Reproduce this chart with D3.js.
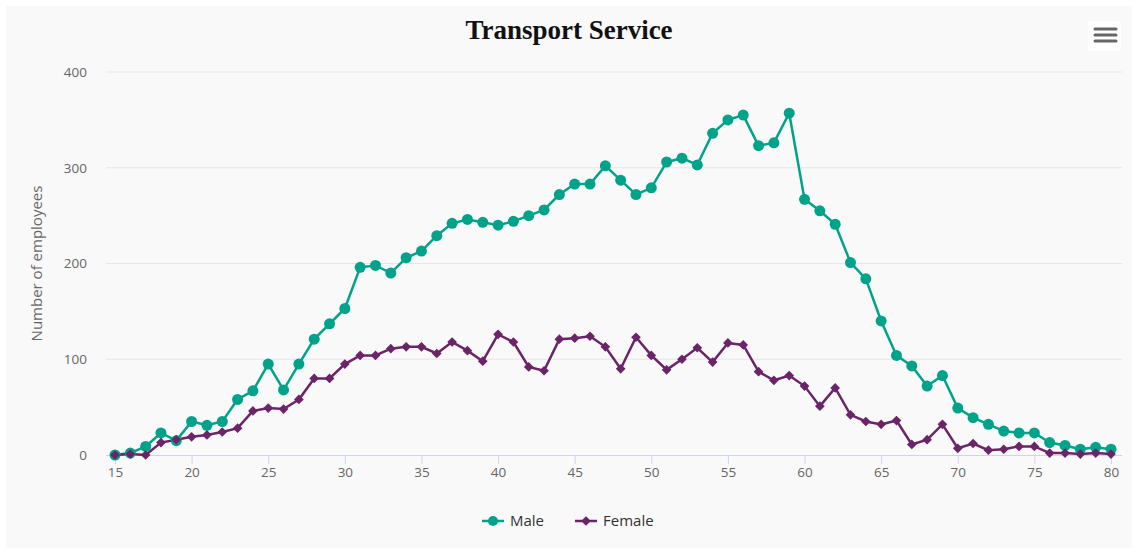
<!DOCTYPE html>
<html>
<head>
<meta charset="utf-8">
<script src="https://cdn.jsdelivr.net/npm/d3@7"></script>
<style>
    body { margin: 0; background: #ffffff; }
    svg { display: block; }
</style>
</head>
<body>
<div id="chart"></div>
<script>
// ages on the x axis
var ages = d3.range(15, 81);

// number of male employees per age
var maleValues = [0, 2, 9, 23, 15, 35, 31, 35, 58, 67,
    95, 68, 95, 121, 137, 153, 196, 198, 190, 206,
    213, 229, 242, 246, 243, 240, 244, 250, 256, 272,
    283, 283, 302, 287, 272, 279, 306, 310, 303, 336,
    350, 355, 323, 326, 357, 267, 255, 241, 201, 184,
    140, 104, 93, 72, 83, 49, 39, 32, 25, 23,
    23, 13, 10, 6, 8, 6];

// number of female employees per age
var femaleValues = [0, 1, 0, 13, 16, 19, 21, 24, 28, 46,
    49, 48, 58, 80, 80, 95, 104, 104, 111, 113,
    113, 106, 118, 109, 98, 126, 118, 92, 88, 121,
    122, 124, 113, 90, 123, 104, 89, 100, 112, 97,
    117, 115, 87, 78, 83, 72, 51, 70, 42, 35,
    32, 36, 11, 16, 32, 7, 12, 5, 6, 9,
    9, 2, 2, 1, 2, 1];

var xTicks = [15, 20, 25, 30, 35, 40, 45, 50, 55, 60, 65, 70, 75, 80];
var yTicks = [0, 100, 200, 300, 400];

var seriesNames = ["Male", "Female"];
var seriesColors = ["#00a38a", "#6b2468"];

var width = 1138, height = 552;
var margin = {left: 115, right: 27, top: 72, bottom: 97};

var svg = d3.select("#chart").append("svg")
    .attr("width", width)
    .attr("height", height);

// chart background
svg.append("rect")
    .attr("x", 6).attr("y", 6)
    .attr("width", width - 12).attr("height", height - 10)
    .attr("fill", "#f9f9f9");

var x = d3.scaleLinear().domain([15, 80]).range([margin.left, width - margin.right]);
var y = d3.scaleLinear().domain([0, 400]).range([height - margin.bottom, margin.top]);

// horizontal grid lines
svg.append("g").selectAll("line")
    .data(yTicks.slice(1))
    .enter().append("line")
    .attr("x1", 106).attr("x2", width - 16)
    .attr("y1", function(d) { return y(d); })
    .attr("y2", function(d) { return y(d); })
    .attr("stroke", "#e6e6e6")
    .attr("stroke-width", 1);

// y axis labels
var yAxis = d3.axisLeft(y).tickValues(yTicks).tickSize(0).tickPadding(0);
var gy = svg.append("g")
    .attr("transform", "translate(87,0)")
    .call(yAxis);
gy.select(".domain").remove();
gy.selectAll("text")
    .attr("font-family", "'Open Sans', sans-serif")
    .attr("font-size", 13.5)
    .attr("fill", "#666666");

// x axis
var xAxis = d3.axisBottom(x).tickValues(xTicks).tickSize(9).tickPadding(3);
var gx = svg.append("g")
    .attr("transform", "translate(0," + (height - margin.bottom) + ")")
    .call(xAxis);
gx.select(".domain")
    .attr("d", "M106,0.5H" + (width - 16) + "V0.5")
    .attr("stroke", "#ccd6eb");
gx.selectAll(".tick line").attr("stroke", "#ccd6eb");
gx.selectAll("text")
    .attr("font-family", "'Open Sans', sans-serif")
    .attr("font-size", 13.5)
    .attr("fill", "#666666");

// y axis title
svg.append("text")
    .attr("transform", "translate(42," + y(200) + ") rotate(-90)")
    .attr("text-anchor", "middle")
    .attr("font-family", "'Open Sans', sans-serif")
    .attr("font-size", 15)
    .attr("fill", "#666666")
    .text("Number of employees");

// chart title
svg.append("text")
    .attr("x", 569)
    .attr("y", 39)
    .attr("text-anchor", "middle")
    .attr("font-family", "'Liberation Serif', serif")
    .attr("font-weight", "bold")
    .attr("font-size", 27)
    .attr("fill", "#111111")
    .text("Transport Service");

// menu button
var menu = svg.append("g");
menu.append("rect")
    .attr("x", 1088).attr("y", 21)
    .attr("width", 33).attr("height", 30)
    .attr("rx", 2)
    .attr("fill", "#ffffff");
menu.selectAll("line")
    .data([29, 35, 41])
    .enter().append("line")
    .attr("x1", 1095).attr("x2", 1116)
    .attr("y1", function(d) { return d; })
    .attr("y2", function(d) { return d; })
    .attr("stroke", "#666666")
    .attr("stroke-width", 3)
    .attr("stroke-linecap", "round");

var line = d3.line()
    .x(function(d, i) { return x(ages[i]); })
    .y(function(d) { return y(d); });

var diamond = d3.symbol().type(d3.symbolDiamond2).size(60);

// male series
svg.append("path")
    .datum(maleValues)
    .attr("d", line)
    .attr("fill", "none")
    .attr("stroke", seriesColors[0])
    .attr("stroke-width", 2.5);

// female series
svg.append("path")
    .datum(femaleValues)
    .attr("d", line)
    .attr("fill", "none")
    .attr("stroke", seriesColors[1])
    .attr("stroke-width", 2.5);

svg.append("g").selectAll("circle")
    .data(maleValues)
    .enter().append("circle")
    .attr("cx", function(d, i) { return x(ages[i]); })
    .attr("cy", function(d) { return y(d); })
    .attr("r", 5.5)
    .attr("fill", seriesColors[0]);

svg.append("g").selectAll("path")
    .data(femaleValues)
    .enter().append("path")
    .attr("d", diamond)
    .attr("transform", function(d, i) { return "translate(" + x(ages[i]) + "," + y(d) + ")"; })
    .attr("fill", seriesColors[1]);

// legend
var legend = svg.append("g").attr("transform", "translate(0,521)");
var legendX = [482, 575];
seriesNames.forEach(function(name, i) {
    var g = legend.append("g").attr("transform", "translate(" + legendX[i] + ",0)");
    g.append("line")
        .attr("x1", 0).attr("x2", 22)
        .attr("stroke", seriesColors[i])
        .attr("stroke-width", 2.5);
    if (i == 0) {
        g.append("circle").attr("cx", 11).attr("r", 5).attr("fill", seriesColors[i]);
    } else {
        g.append("path").attr("d", diamond).attr("transform", "translate(11,0)").attr("fill", seriesColors[i]);
    }
    g.append("text")
        .attr("x", 28)
        .attr("dy", "0.35em")
        .attr("font-family", "'Open Sans', sans-serif")
        .attr("font-size", 15)
        .attr("fill", "#333333")
        .text(name);
});
</script>
</body>
</html>
